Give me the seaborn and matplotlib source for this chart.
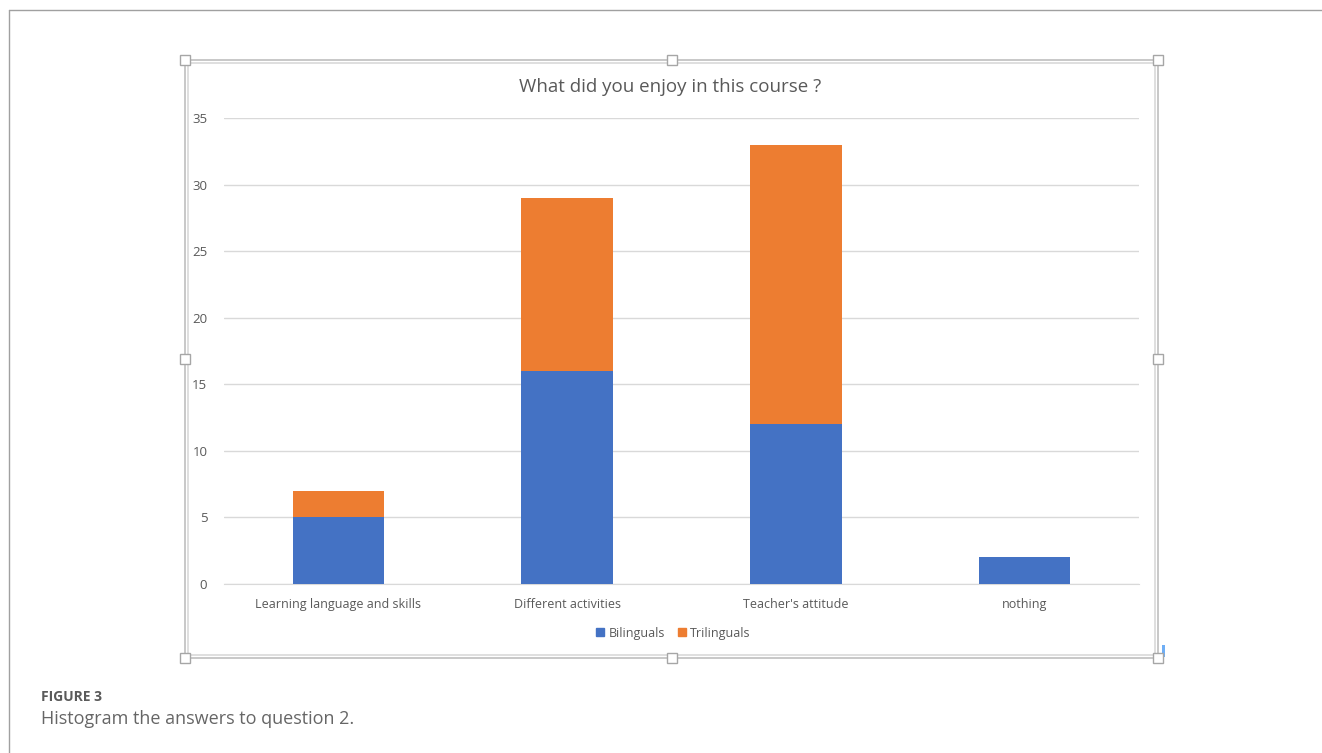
import numpy as np
import pandas as pd
import matplotlib.pyplot as plt
import seaborn as sns
from matplotlib.patches import Rectangle
from matplotlib.lines import Line2D

# data
categories = ["Learning language and skills", "Different activities", "Teacher's attitude", "nothing"]
bilinguals = [5, 16, 12, 2]
trilinguals = [2, 13, 21, 0]
series_names = ["Bilinguals", "Trilinguals"]
yticks = [0, 5, 10, 15, 20, 25, 30, 35]

blue = "#4472C4"
orange = "#ED7D31"
W, H = 1322, 753

df = pd.DataFrame({"cat": categories, "bil": bilinguals, "tri": trilinguals})
df["total"] = df["bil"] + df["tri"]

sns.set_style("white")
plt.rcParams['font.family'] = ['Open Sans', 'DejaVu Sans']

fig = plt.figure(figsize=(W / 100, H / 100), dpi=100)
ax = fig.add_axes([224 / W, 1 - 584 / H, (1139 - 224) / W, (584 - 118) / H])

# stacked: draw totals in orange, bilinguals on top in blue
sns.barplot(data=df, x="cat", y="total", color=orange, saturation=1, width=0.4, ax=ax,
            zorder=3, linewidth=0)
sns.barplot(data=df, x="cat", y="bil", color=blue, saturation=1, width=0.4, ax=ax,
            zorder=4, linewidth=0)

ax.set_xlim(-0.5, 3.5)
ax.set_ylim(0, 35)
ax.set_yticks(yticks)
ax.set_xlabel("")
ax.set_ylabel("")
ax.grid(axis="y", color="#D9D9D9", linewidth=1, zorder=0)
for s in ax.spines.values():
    s.set_visible(False)
ax.spines["bottom"].set_visible(True)
ax.spines["bottom"].set_color("#D9D9D9")
ax.tick_params(axis="both", length=0, labelsize=9, labelcolor="#595959")
ax.tick_params(axis="y", pad=12, labelsize=9.5)
ax.tick_params(axis="x", pad=10)

fig.text(670 / W, 1 - 87 / H, "What did you enjoy in this course ?", ha="center", va="center",
         fontsize=13.5, color="#595959")

handles = [Line2D([], [], marker="s", linestyle="", color=c, markersize=6) for c in (blue, orange)]
fig.legend(handles, series_names, loc="center", bbox_to_anchor=(673 / W, 1 - 633 / H), ncol=2,
           frameon=False, fontsize=9, handlelength=0.7, handletextpad=0.3, columnspacing=1.0,
           labelcolor="#595959")

# selection frame around the chart
x0, y0, x1, y1 = 185, 60, 1158, 658
for off, col in ((0, "#BFBFBF"), (3, "#D9D9D9")):
    fig.patches.append(Rectangle(((x0 + off) / W, 1 - (y1 - off) / H), (x1 - x0 - 2 * off) / W,
                                 (y1 - y0 - 2 * off) / H, transform=fig.transFigure,
                                 fill=False, edgecolor=col, linewidth=1.2))
xm, ym = (x0 + x1) / 2, (y0 + y1) / 2
for hx, hy in [(x0, y0), (xm, y0), (x1, y0), (x0, ym), (x1, ym), (x0, y1), (xm, y1), (x1, y1)]:
    fig.patches.append(Rectangle(((hx - 5) / W, 1 - (hy + 5) / H), 10 / W, 10 / H,
                                 transform=fig.transFigure, facecolor="white",
                                 edgecolor="#A6A6A6", linewidth=1, zorder=5))
fig.patches.append(Rectangle((1162 / W, 1 - 657 / H), 3 / W, 12 / H, transform=fig.transFigure,
                             facecolor="#6FAEF5", edgecolor="none"))

# page border (top and left)
fig.add_artist(Line2D([9 / W, 1], [1 - 10 / H, 1 - 10 / H], transform=fig.transFigure,
                      color="#A0A0A0", linewidth=1))
fig.add_artist(Line2D([9 / W, 9 / W], [0, 1 - 10 / H], transform=fig.transFigure,
                      color="#A0A0A0", linewidth=1))

# caption
fig.text(41 / W, 1 - 697 / H, "FIGURE 3", ha="left", va="center", fontsize=10,
         color="#5A5A5A", fontweight="bold")
fig.text(41 / W, 1 - 719 / H, "Histogram the answers to question 2.", ha="left", va="center",
         fontsize=13, color="#666666")

fig.savefig("out.png", dpi=100)
